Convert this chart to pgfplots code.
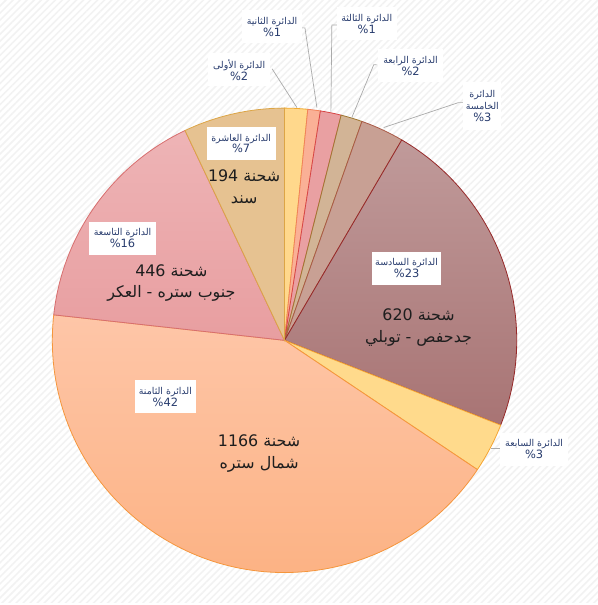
\documentclass[border=0pt]{standalone}
\usepackage{pgfplots}
\pgfplotsset{compat=1.18}
\usepackage{pgfplotstable}
\usepackage{fontspec}
\setmainfont{DejaVu Sans}
\newfontfamily\arabicfont[Script=Arabic]{DejaVu Sans}
\TeXXeTstate=1
\usetikzlibrary{patterns.meta}
\definecolor{lblblue}{RGB}{40,60,110}
\definecolor{leader}{RGB}{170,170,170}
\definecolor{maintext}{RGB}{30,30,30}
\tikzset{
 slice1/.style={fill={rgb,255:red,255;green,216;blue,140}, draw={rgb,255:red,240;green,170;blue,50}, line width=0.8bp},
 slice2/.style={fill={rgb,255:red,250;green,176;blue,150}, draw={rgb,255:red,240;green,130;blue,90}, line width=0.8bp},
 slice3/.style={fill={rgb,255:red,233;green,160;blue,162}, draw={rgb,255:red,215;green,70;blue,70}, line width=0.8bp},
 slice4/.style={fill={rgb,255:red,210;green,180;blue,150}, draw={rgb,255:red,160;green,120;blue,50}, line width=0.8bp},
 slice5/.style={fill={rgb,255:red,200;green,160;blue,148}, draw={rgb,255:red,170;green,90;blue,70}, line width=0.8bp},
 slice6/.style={top color={rgb,255:red,192;green,154;blue,154}, bottom color={rgb,255:red,168;green,116;blue,116}, draw={rgb,255:red,150;green,40;blue,40}, line width=0.8bp},
 slice7/.style={fill={rgb,255:red,255;green,218;blue,140}, draw={rgb,255:red,245;green,165;blue,50}, line width=0.8bp},
 slice8/.style={top color={rgb,255:red,254;green,198;blue,168}, bottom color={rgb,255:red,252;green,176;blue,128}, draw={rgb,255:red,245;green,150;blue,60}, line width=0.8bp},
 slice9/.style={top color={rgb,255:red,238;green,180;blue,182}, bottom color={rgb,255:red,232;green,158;blue,160}, draw={rgb,255:red,215;green,110;blue,110}, line width=0.8bp},
 slice10/.style={fill={rgb,255:red,230;green,194;blue,145}, draw={rgb,255:red,220;green,165;blue,70}, line width=0.8bp},
 lbl/.style={fill=white, text=lblblue, align=center, inner sep=1bp, minimum width=62bp, minimum height=33bp},
 mainlbl/.style={text=maintext, align=center, inner sep=0pt, font=\fontsize{16}{22}\selectfont\arabicfont},
 lead/.style={draw=leader, line width=0.7bp}
}
\newcommand{\lab}[2]{{\fontsize{9.5}{16}\selectfont\arabicfont\beginR #1\endR}\\{\fontsize{11.5}{16}\selectfont\%#2}}
\pgfplotstableread{
id count
1 44
2 24
3 40
4 41
5 83
6 620
7 95
8 1166
9 446
10 194
}\piedata
\begin{document}
\begin{tikzpicture}
\begin{axis}[scale only axis, width=600bp, height=605bp, xmin=0, xmax=600, ymin=0, ymax=605, hide axis, clip=false]
\fill[white] (axis cs:0,0) rectangle (axis cs:600,605);
\fill[pattern={Lines[angle=45,distance=5bp,line width=1.5bp]}, pattern color=black!5] (axis cs:0,0) rectangle (axis cs:600,605);
\pgfplotstablegetrowsof{\piedata}
\pgfmathtruncatemacro\N{\pgfplotsretval-1}
\def\total{0}
\pgfplotsforeachungrouped \i in {0,...,\N}{%
  \pgfplotstablegetelem{\i}{count}\of\piedata
  \pgfmathsetmacro\total{\total+\pgfplotsretval}%
}
\def\cum{0}
\pgfplotsforeachungrouped \i in {0,...,\N}{%
  \pgfplotstablegetelem{\i}{count}\of\piedata
  \let\cnt\pgfplotsretval
  \pgfplotstablegetelem{\i}{id}\of\piedata
  \let\sid\pgfplotsretval
  \pgfmathsetmacro\sa{90-360*(\cum/\total)}%
  \pgfmathsetmacro\cum{\cum+\cnt}%
  \pgfmathsetmacro\ea{90-360*(\cum/\total)}%
  \edef\tmp{\noexpand\path[slice\sid] (axis cs:285.5,263.5) -- ++(\sa:233bp) arc[start angle=\sa, end angle=\ea, radius=233bp] -- cycle;}%
  \tmp
}
% leader lines
\draw[lead] (axis cs:273,536) -- (axis cs:298,497);
\draw[lead] (axis cs:303,577) -- (axis cs:306,577) -- (axis cs:318,497);
\draw[lead] (axis cs:338,580) -- (axis cs:333,580) -- (axis cs:332,493);
\draw[lead] (axis cs:378,540) -- (axis cs:375,540) -- (axis cs:353,487);
\draw[lead] (axis cs:465,502) -- (axis cs:460,502) -- (axis cs:385,477);
\draw[lead] (axis cs:502,155) -- (axis cs:493,155);
% small labels
\node[lbl] at (axis cs:240,535) {\lab{الدائرة الأولى}{2}};
\node[lbl, minimum width=60bp] at (axis cs:273,578) {\lab{الدائرة الثانية}{1}};
\node[lbl, minimum width=60bp] at (axis cs:368,581) {\lab{الدائرة الثالثة}{1}};
\node[lbl, minimum width=66bp] at (axis cs:412,539) {\lab{الدائرة الرابعة}{2}};
\node[lbl, minimum width=38bp, minimum height=48bp] at (axis cs:484,499) {{\fontsize{9.5}{16}\selectfont\arabicfont\beginR الدائرة\endR}\\{\fontsize{9.5}{16}\selectfont\arabicfont\beginR الخامسة\endR}\\{\fontsize{11.5}{16}\selectfont\%3}};
\node[lbl, minimum width=70bp] at (axis cs:408,336) {\lab{الدائرة السادسة}{23}};
\node[lbl, minimum width=68bp] at (axis cs:536,154) {\lab{الدائرة السابعة}{3}};
\node[lbl] at (axis cs:166,207) {\lab{الدائرة الثامنة}{42}};
\node[lbl, minimum width=67bp] at (axis cs:123,366) {\lab{الدائرة التاسعة}{16}};
\node[lbl, minimum width=69bp] at (axis cs:242,461) {\lab{الدائرة العاشرة}{7}};
% main labels
\node[mainlbl] at (axis cs:245,418) {\beginR شحنة \beginL 194\endL\endR\\\beginR سند\endR};
\node[mainlbl] at (axis cs:172,321) {\beginR شحنة \beginL 446\endL\endR\\\beginR جنوب ستره - العكر\endR};
\node[mainlbl] at (axis cs:420,276) {\beginR شحنة \beginL 620\endL\endR\\\beginR جدحفص - توبلي\endR};
\node[mainlbl] at (axis cs:260,150) {\beginR شحنة \beginL 1166\endL\endR\\\beginR شمال ستره\endR};
\end{axis}
\end{tikzpicture}
\end{document}
